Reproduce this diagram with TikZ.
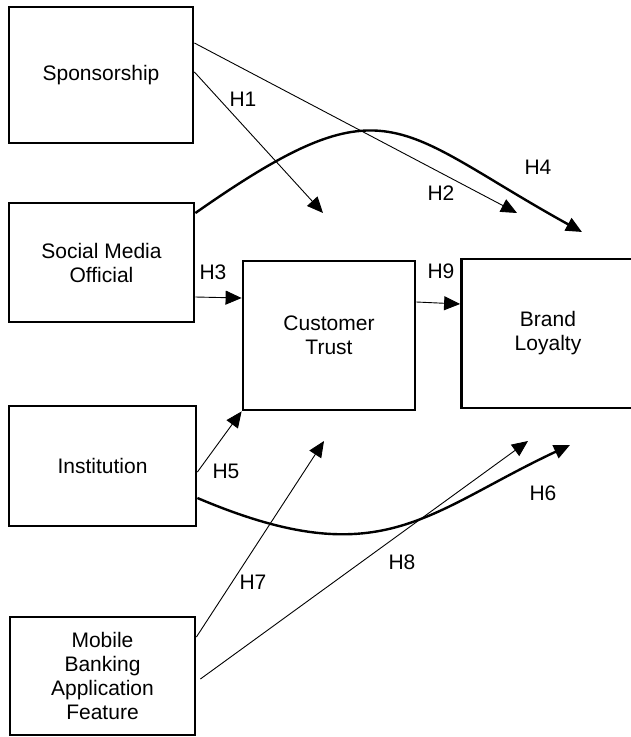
\documentclass[tikz,border=0pt]{standalone}
\usepackage{fontspec}
\setmainfont{Liberation Sans}
\usetikzlibrary{arrows.meta}
\newcommand\diagfont{\fontsize{21}{24}\selectfont}
\begin{document}
\begin{tikzpicture}[x=1pt,y=-1pt,
    box/.style={draw,line width=2.8pt,align=center,inner sep=0pt,font=\diagfont},
    link/.style={-{Triangle[length=16pt,width=14pt]},line width=0.9pt},
    bold/.style={-{Triangle[length=16pt,width=14pt]},line width=2.4pt},
    hyp/.style={font=\diagfont}]
    \useasboundingbox (0,0) rectangle (631,737);

    \node[box,minimum width=184pt,minimum height=136pt] (S) at (101,75)    {Sponsorship};
    \node[box,minimum width=185pt,minimum height=119pt] (M) at (101.5,262.5) {Social Media\\Official};
    \node[box,minimum width=187pt,minimum height=120pt] (I) at (102.5,466) {Institution};
    \node[box,minimum width=185pt,minimum height=118pt] (F) at (102.5,676) {Mobile\\Banking\\Application\\Feature};
    \node[box,minimum width=172pt,minimum height=149pt] (T) at (329,335.5) {Customer\\Trust};
    \node[box,minimum width=173pt,minimum height=149pt] (B) at (548,333.5) {Brand\\Loyalty};

    % free arrow ends
    \coordinate (t1) at (323,213);
    \coordinate (t2) at (517,213);
    \coordinate (t4) at (582,232);
    \coordinate (t6) at (570,445);
    \coordinate (t7) at (324,441);
    \coordinate (t8) at (528,441);

    \draw[link] ([yshift=3pt]S.east)   -- (t1);
    \draw[link] ([yshift=32pt]S.east)  -- (t2);
    \draw[link] ([yshift=-34.5pt]M.east) -- ([yshift=37.5pt]T.west);
    \draw[bold] ([yshift=49.5pt]M.east) .. controls (388,78) and (394,128) .. (t4);
    \draw[link] ([yshift=-6pt]I.east)  -- (T.south west);
    \draw[bold] ([yshift=-32pt]I.east) .. controls (381,576) and (425,513) .. (t6);
    \draw[link] ([yshift=39pt]F.east)  -- (t7);
    \draw[link] ([xshift=4pt,yshift=-3pt]F.east) -- (t8);
    \draw[link] ([yshift=33.5pt]T.east) -- ([yshift=29.5pt]B.west);

    \node[hyp] (h1) at (243,99)  {H1};
    \node[hyp] (h2) at (441,193) {H2};
    \node[hyp] (h3) at (213,272) {H3};
    \node[hyp] (h4) at (538,167) {H4};
    \node[hyp] (h5) at (226,471) {H5};
    \node[hyp] (h6) at (543,493) {H6};
    \node[hyp] (h7) at (253,582) {H7};
    \node[hyp] (h8) at (402,562) {H8};
    \node[hyp] (h9) at (441,271) {H9};
\end{tikzpicture}
\end{document}
